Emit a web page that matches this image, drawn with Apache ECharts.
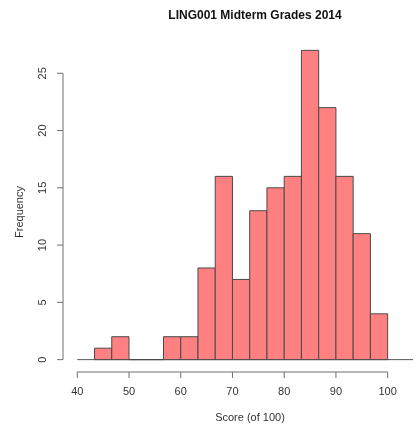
<!DOCTYPE html>
<html><head><meta charset="utf-8">
<script src="https://cdn.jsdelivr.net/npm/echarts@6/dist/echarts.min.js"></script>
<style>html,body{margin:0;padding:0;background:#fff}#c{width:417px;height:427px}</style>
</head><body><div id="c"></div>
<script>
// Histogram data: bins of width 10/3 starting at 43.33
const binStart = 130 / 3;
const binWidth = 10 / 3;
const counts = [1, 2, 0, 0, 2, 2, 8, 16, 7, 13, 15, 16, 27, 22, 16, 11, 4];
const xTicks = [40, 50, 60, 70, 80, 90, 100];
const yTicks = [0, 5, 10, 15, 20, 25];

// Plot region extents (data units)
const xMin = 37.24, xMax = 104.9;
const yMin = -1.08, yMax = 28.08;

const FONT = '"Liberation Sans", Arial, Helvetica, sans-serif';
const TXT = '#333';
const AX = '#6f6f6f';

const bins = counts.map((c, i) => [binStart + i * binWidth, binStart + (i + 1) * binWidth, c]);

const chart = echarts.init(document.getElementById('c'), null, { renderer: 'canvas' });
chart.setOption({
  animation: false,
  backgroundColor: '#fff',
  title: {
    text: 'LING001 Midterm Grades 2014',
    left: 250, top: 5, textAlign: 'center',
    textStyle: { fontFamily: FONT, fontSize: 12, fontWeight: 'bold', color: '#111' }
  },
  grid: { left: 63, right: 4, top: 38, bottom: 55 },
  xAxis: {
    type: 'value', min: xMin, max: xMax,
    axisLine: { show: false },
    splitLine: { show: false },
    axisTick: { show: false },
    axisLabel: { customValues: xTicks, margin: 14, fontFamily: FONT, fontSize: 11, color: TXT }
  },
  yAxis: {
    type: 'value', min: yMin, max: yMax,
    axisLine: { show: false },
    splitLine: { show: false },
    axisTick: { show: false },
    axisLabel: { customValues: yTicks, rotate: 90, margin: 15, fontFamily: FONT, fontSize: 11, color: TXT }
  },
  graphic: [
    { type: 'text', x: 250, y: 418, style: { text: 'Score (of 100)', fontFamily: FONT, fontSize: 11, fill: TXT, textAlign: 'center', textVerticalAlign: 'middle' } },
    { type: 'text', x: 20, y: 212, rotation: Math.PI / 2, style: { text: 'Frequency', fontFamily: FONT, fontSize: 11, fill: TXT, textAlign: 'center', textVerticalAlign: 'middle' } }
  ],
  series: [
    {
      // axis lines, tick marks and zero baseline
      type: 'custom',
      silent: true,
      data: [[0]],
      renderItem(params, api) {
        const seg = (p, q, color) => ({
          type: 'line',
          shape: { x1: p[0], y1: p[1], x2: q[0], y2: q[1] },
          style: { stroke: color, lineWidth: 1 }
        });
        const kids = [];
        const xa = api.coord([xTicks[0], yMin]), xb = api.coord([xTicks[xTicks.length - 1], yMin]);
        kids.push(seg(xa, xb, AX));
        xTicks.forEach(t => {
          const p = api.coord([t, yMin]);
          kids.push(seg(p, [p[0], p[1] + 6], AX));
        });
        const ya = api.coord([xMin, yTicks[0]]), yb = api.coord([xMin, yTicks[yTicks.length - 1]]);
        kids.push(seg(ya, yb, AX));
        yTicks.forEach(t => {
          const p = api.coord([xMin, t]);
          kids.push(seg(p, [p[0] - 6, p[1]], AX));
        });
        kids.push(seg(api.coord([xTicks[0], 0]), api.coord([xMax, 0]), '#555'));
        return { type: 'group', children: kids };
      }
    },
    {
      type: 'custom',
      data: bins,
      renderItem(params, api) {
        const p0 = api.coord([api.value(0), 0]);
        const p1 = api.coord([api.value(1), api.value(2)]);
        return {
          type: 'rect',
          shape: { x: p0[0], y: p1[1], width: p1[0] - p0[0], height: p0[1] - p1[1] },
          style: { fill: '#ff8080', stroke: '#4a4a4a', lineWidth: 1 }
        };
      }
    }
  ]
});
</script>
</body></html>
